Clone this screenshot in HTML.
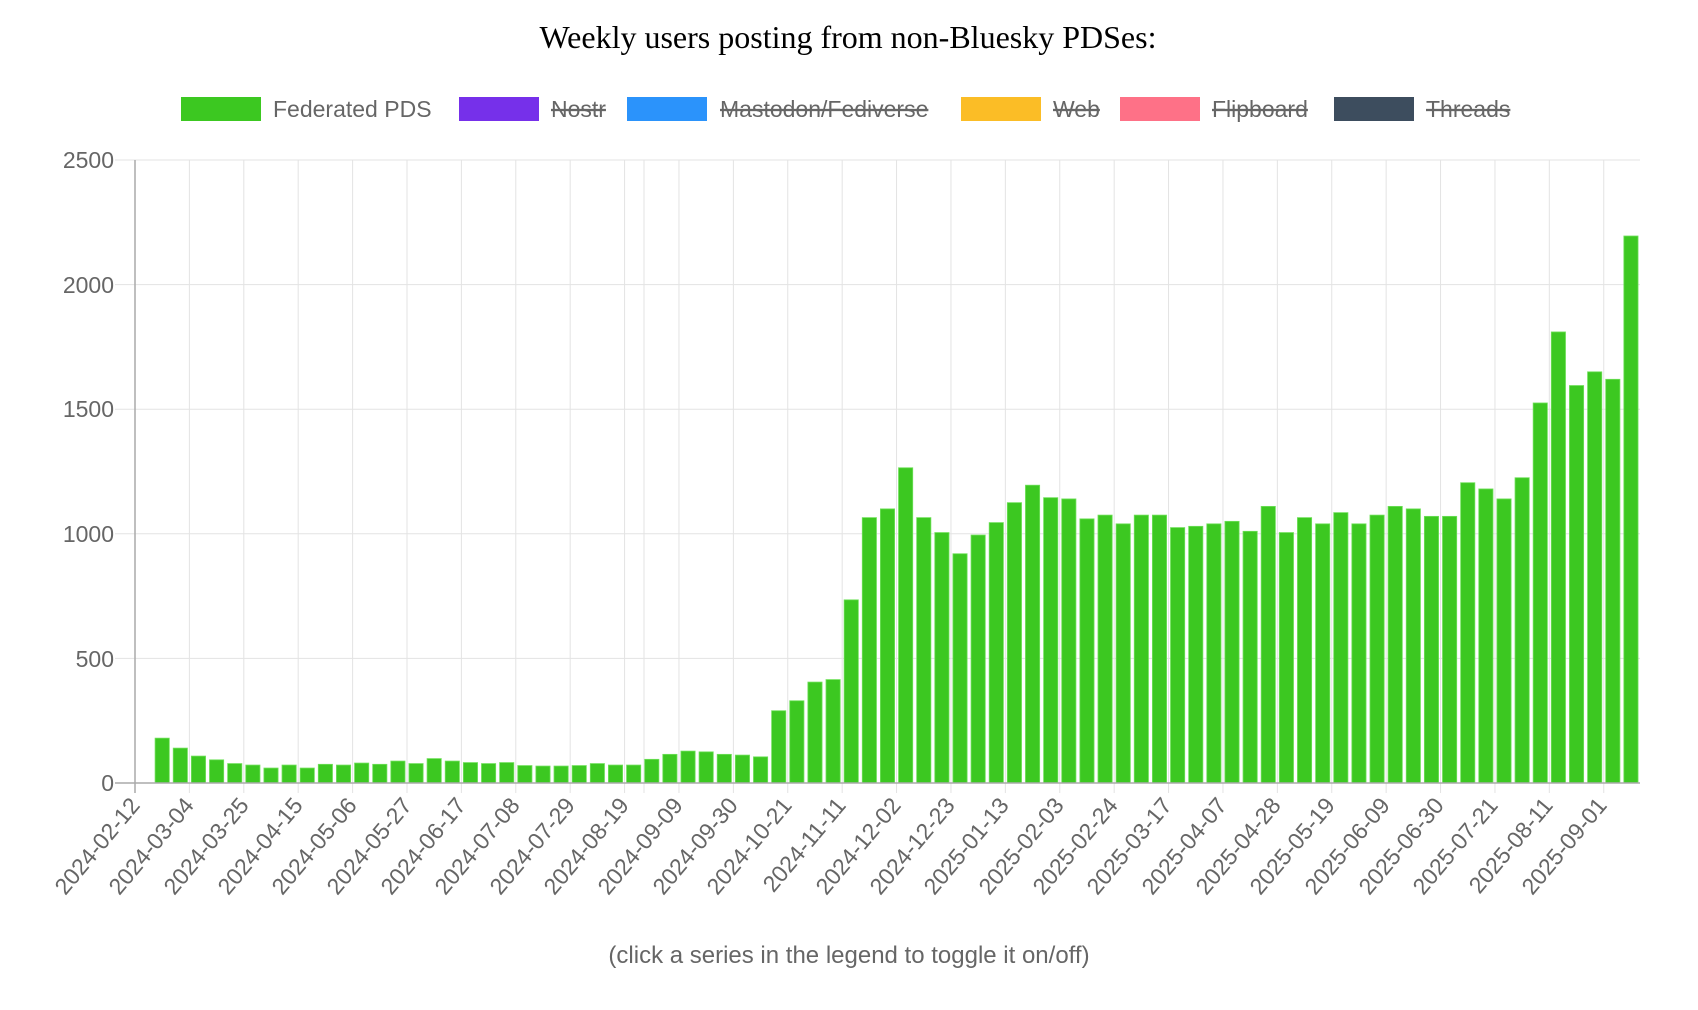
<!DOCTYPE html>
<html><head><meta charset="utf-8"><style>
html,body{margin:0;padding:0;background:#fff;}
svg{display:block;}
text{font-family:"Liberation Sans",sans-serif;fill:#666;}
</style></head><body>
<svg id="c" width="1698" height="1010" viewBox="0 0 1698 1010" xmlns="http://www.w3.org/2000/svg">
<text x="848" y="48" text-anchor="middle" style="font-family:'Liberation Serif',serif;font-size:32px;fill:#000">Weekly users posting from non-Bluesky PDSes:</text>
<g font-size="23">
<rect x="181" y="97" width="80" height="24" fill="#3cc821"/><text x="273" y="117">Federated PDS</text>
<rect x="459" y="97" width="80" height="24" fill="#7630ea"/><text x="551" y="117" text-decoration="line-through">Nostr</text>
<rect x="627" y="97" width="80" height="24" fill="#2b93fb"/><text x="720" y="117" text-decoration="line-through">Mastodon/Fediverse</text>
<rect x="961" y="97" width="80" height="24" fill="#fbbd26"/><text x="1053" y="117" text-decoration="line-through">Web</text>
<rect x="1120" y="97" width="80" height="24" fill="#fe7187"/><text x="1212" y="117" text-decoration="line-through">Flipboard</text>
<rect x="1334" y="97" width="80" height="24" fill="#3d4d5e"/><text x="1426" y="117" text-decoration="line-through">Threads</text>
</g>
<g id="grid" stroke="#e3e3e3" stroke-width="1"></g>
<g id="bars"></g>
<line x1="135" y1="160" x2="135" y2="793" stroke="#aaa" stroke-width="1.5"/>
<line x1="115" y1="783" x2="1640" y2="783" stroke="#aaa" stroke-width="1.5"/>
<g font-size="23" text-anchor="end">
<text x="114" y="791">0</text>
<text x="114" y="667">500</text>
<text x="114" y="542">1000</text>
<text x="114" y="417">1500</text>
<text x="114" y="293">2000</text>
<text x="114" y="168">2500</text>
</g>
<g font-size="23" text-anchor="end" id="xl">
<text transform="translate(141,806) rotate(-50)">2024-02-12</text>
<text transform="translate(195,806) rotate(-50)">2024-03-04</text>
<text transform="translate(250,806) rotate(-50)">2024-03-25</text>
<text transform="translate(304,806) rotate(-50)">2024-04-15</text>
<text transform="translate(358,806) rotate(-50)">2024-05-06</text>
<text transform="translate(413,806) rotate(-50)">2024-05-27</text>
<text transform="translate(467,806) rotate(-50)">2024-06-17</text>
<text transform="translate(521,806) rotate(-50)">2024-07-08</text>
<text transform="translate(576,806) rotate(-50)">2024-07-29</text>
<text transform="translate(630,806) rotate(-50)">2024-08-19</text>
<text transform="translate(684,806) rotate(-50)">2024-09-09</text>
<text transform="translate(739,806) rotate(-50)">2024-09-30</text>
<text transform="translate(793,806) rotate(-50)">2024-10-21</text>
<text transform="translate(847,806) rotate(-50)">2024-11-11</text>
<text transform="translate(902,806) rotate(-50)">2024-12-02</text>
<text transform="translate(956,806) rotate(-50)">2024-12-23</text>
<text transform="translate(1010,806) rotate(-50)">2025-01-13</text>
<text transform="translate(1065,806) rotate(-50)">2025-02-03</text>
<text transform="translate(1119,806) rotate(-50)">2025-02-24</text>
<text transform="translate(1173,806) rotate(-50)">2025-03-17</text>
<text transform="translate(1228,806) rotate(-50)">2025-04-07</text>
<text transform="translate(1282,806) rotate(-50)">2025-04-28</text>
<text transform="translate(1336,806) rotate(-50)">2025-05-19</text>
<text transform="translate(1391,806) rotate(-50)">2025-06-09</text>
<text transform="translate(1445,806) rotate(-50)">2025-06-30</text>
<text transform="translate(1499,806) rotate(-50)">2025-07-21</text>
<text transform="translate(1554,806) rotate(-50)">2025-08-11</text>
<text transform="translate(1608,806) rotate(-50)">2025-09-01</text>
</g>
<text x="849" y="963" font-size="24" text-anchor="middle">(click a series in the legend to toggle it on/off)</text>
</svg>
<script>
var v=[0,180,140,108,93,78,72,60,72,60,75,72,80,75,88,78,98,88,82,78,82,70,68,68,70,78,72,72,95,115,128,125,115,112,105,
290,330,405,415,735,1065,1100,1265,1065,1005,920,995,1045,1125,1195,1145,1140,1060,1075,1040,1075,1075,1025,1030,1040,1050,1010,1110,1005,1065,1040,1085,1040,1075,1110,1100,1070,1070,1205,1180,1140,1225,1525,1810,1595,1650,1620,2195];
var NS="http://www.w3.org/2000/svg",L=135,R=1640,Z=783,T=160,w=(R-L)/83,s=(Z-T)/2500;
var g=document.getElementById('grid'),b=document.getElementById('bars');
function ln(x1,y1,x2,y2){var l=document.createElementNS(NS,'line');l.setAttribute('x1',x1);l.setAttribute('y1',y1);l.setAttribute('x2',x2);l.setAttribute('y2',y2);g.appendChild(l);}
for(var k=0;k<=5;k++){var y=Z-k*500*s;ln(115,y,R,y);}
for(var i=3;i<83;i+=3){var x=L+i*w;ln(x,T,x,793);}
ln(644,T,644,793);
for(var i=0;i<83;i++){var h=v[i]*s;var r=document.createElementNS(NS,'rect');var bw=14.2;
r.setAttribute('x',L+(i+0.5)*w-bw/2);r.setAttribute('y',Z-h);r.setAttribute('width',bw);r.setAttribute('height',Math.max(h,0));
r.setAttribute('fill','#3cc821');r.setAttribute('stroke','#6fe05a');r.setAttribute('stroke-width','0.8');b.appendChild(r);}
</script>
</body></html>
